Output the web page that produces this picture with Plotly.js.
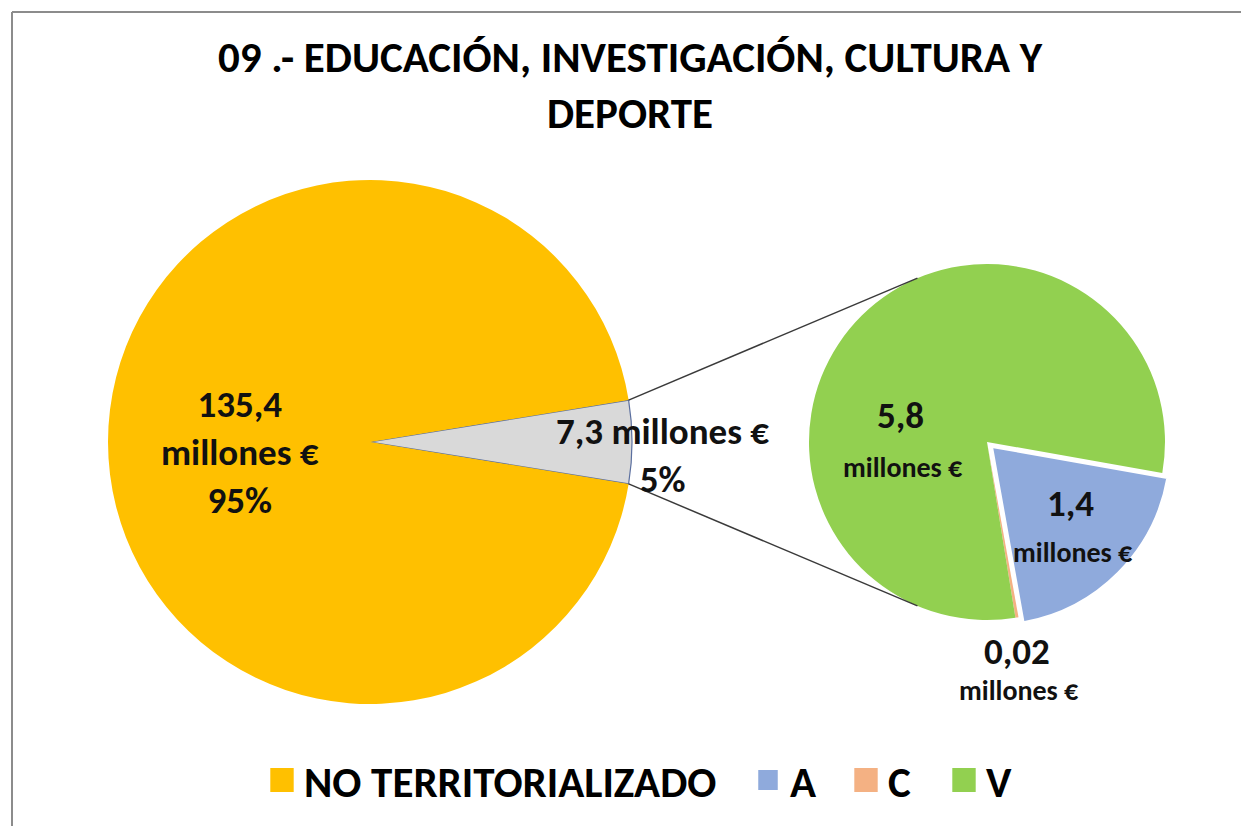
<!DOCTYPE html>
<html>
<head>
<meta charset="utf-8">
<script src="https://cdn.plot.ly/plotly-3.0.1.min.js"></script>
<style>
html,body{margin:0;padding:0;background:#ffffff;}
#chart{width:1241px;height:826px;}
</style>
</head>
<body>
<div id="chart"></div>
<script>
// ---------- data ----------
const titleText = "09 .- EDUCACIÓN, INVESTIGACIÓN, CULTURA Y<br>DEPORTE";
const mainLabels = ["TERRITORIALIZADO", "NO TERRITORIALIZADO"];
const mainValues = [7.3, 135.4];
const mainColors = ["#D9D9D9", "#FFC000"];
const subLabels = ["A", "C", "V"];
const subValues = [1.4, 0.02, 5.8];
const subColors = ["#8FAADC", "#F4B183", "#92D050"];
const unitText = "millones €";

// ---------- helpers ----------
const W = 1241, H = 826;
const px = x => x / W;
const py = y => 1 - y / H;
const fmt = v => String(v).replace(".", ",");
const FONT = "Carlito, Lato, sans-serif";
const total = mainValues.reduce((a, b) => a + b, 0);
const pct = v => Math.round(100 * v / total) + "%";

// geometry of the two pies (pixels)
const mainC = {x: 370, y: 442}, mainR = 262;
const subC = {x: 987, y: 442}, subR = 178;
const subPull = 0.04;

const mainTrace = {
  type: "pie",
  labels: mainLabels,
  values: mainValues,
  sort: false,
  direction: "clockwise",
  rotation: 90 - 180 * mainValues[0] / total,
  marker: {colors: mainColors, line: {color: ["#5B6F9F", "#FFC000"], width: [1.2, 0]}},
  textinfo: "none",
  hoverinfo: "label+value",
  showlegend: false,
  domain: {x: [px(mainC.x - mainR), px(mainC.x + mainR)], y: [py(mainC.y + mainR), py(mainC.y - mainR)]}
};

// legend entry for the non-territorialised category (a point-sized pie of the
// same colour, sitting inside the yellow slice, so only its legend item shows)
const dot = {x: 300, y: 600};
const legendMainTrace = {
  type: "pie",
  labels: [mainLabels[1]],
  values: [mainValues[1]],
  marker: {colors: [mainColors[1]], line: {width: 0}},
  textinfo: "none",
  hoverinfo: "skip",
  showlegend: true,
  legendwidth: 437,
  domain: {x: [px(dot.x), px(dot.x + 0.5)], y: [py(dot.y + 0.5), py(dot.y)]}
};

const half = subR * (1 + subPull);
const subTrace = {
  type: "pie",
  labels: subLabels,
  values: subValues,
  sort: false,
  direction: "clockwise",
  rotation: 100,
  pull: [subPull, 0, 0],
  marker: {colors: subColors, line: {color: "#FFFFFF", width: [2, 0, 0]}},
  textinfo: "none",
  hoverinfo: "label+value",
  showlegend: true,
  legendwidth: 49,
  domain: {x: [px(subC.x - half), px(subC.x + half)], y: [py(subC.y + half), py(subC.y - half)]}
};

// connector lines from the grey wedge to the secondary pie
const h = Math.PI * mainValues[0] / total;
const a2 = 113 * Math.PI / 180;
const conn = [
  [mainC.x + mainR * Math.cos(h), mainC.y - mainR * Math.sin(h), subC.x + subR * Math.cos(a2), subC.y - subR * Math.sin(a2)],
  [mainC.x + mainR * Math.cos(h), mainC.y + mainR * Math.sin(h), subC.x + subR * Math.cos(a2), subC.y + subR * Math.sin(a2)]
];
const shapes = conn.map(c => ({
  type: "line", xref: "paper", yref: "paper",
  x0: px(c[0]), y0: py(c[1]), x1: px(c[2]), y1: py(c[3]),
  line: {color: "#3A3A3A", width: 1.5}
}));
// chart frame (top and left edges)
shapes.push({type: "line", xref: "paper", yref: "paper", x0: px(12), y0: py(826), x1: px(12), y1: py(12), line: {color: "#8C8C8C", width: 2}});
shapes.push({type: "line", xref: "paper", yref: "paper", x0: px(12), y0: py(12), x1: px(1241), y1: py(12), line: {color: "#8C8C8C", width: 2}});

const big = 37, small = 28;
const ann = (x, y, text, size) => ({
  xref: "paper", yref: "paper", x: px(x), y: py(y), xanchor: "center", yanchor: "middle",
  text: text, showarrow: false, align: "center",
  font: {family: FONT, size: size || big, color: "#111111", weight: "bold"}
});
const annotations = [
  ann(240, 452, fmt(mainValues[1]) + "<br>" + unitText + "<br>" + pct(mainValues[1])),
  ann(662, 455, fmt(mainValues[0]) + " " + unitText + "<br>" + pct(mainValues[0])),
  ann(900, 415, fmt(subValues[2])),
  ann(903, 467, unitText, small),
  ann(1070, 503, fmt(subValues[0])),
  ann(1073, 552, unitText, small),
  ann(1017, 651, fmt(subValues[1])),
  ann(1019, 690, unitText, small)
];

const layout = {
  width: W, height: H,
  margin: {l: 0, r: 0, t: 0, b: 0},
  paper_bgcolor: "#FFFFFF",
  title: {
    text: titleText, x: px(630), xanchor: "center", xref: "paper",
    y: py(72), yanchor: "middle", yref: "paper",
    font: {family: FONT, size: 43, color: "#000000", weight: "bold", lineheight: 1.15}
  },
  showlegend: true,
  legend: {
    orientation: "h", x: px(260), xanchor: "left", y: py(780), yanchor: "middle",
    itemwidth: 34,
    font: {family: FONT, size: 43, color: "#000000", weight: "bold"},
    traceorder: "normal", itemclick: false, itemdoubleclick: false
  },
  shapes: shapes,
  annotations: annotations
};

Plotly.newPlot("chart", [mainTrace, legendMainTrace, subTrace], layout, {displayModeBar: false, staticPlot: true})
  .then(gd => {
    // enlarge the legend colour squares to the size used in the reference
    gd.querySelectorAll("path.legendpie").forEach(p => {
      const t = p.getAttribute("transform") || "";
      p.setAttribute("transform", t + " scale(1.95,2)");
    });
  });
</script>
</body>
</html>
